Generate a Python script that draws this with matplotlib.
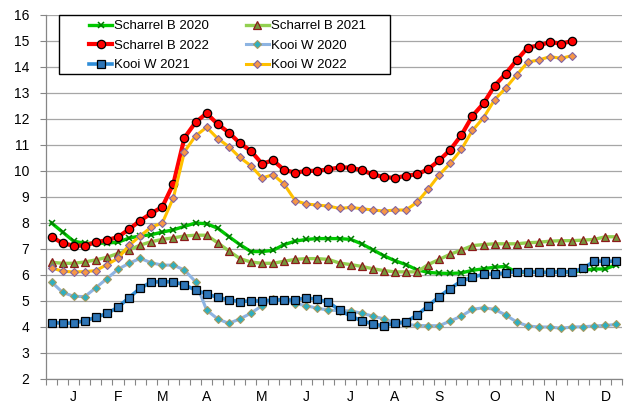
import matplotlib
matplotlib.use("Agg")
import matplotlib.pyplot as plt
import numpy as np

plt.rcParams["font.family"] = ["Liberation Sans", "DejaVu Sans"]

# weekly values, one list per series
scharrel_2020 = [8.0, 7.65, 7.3, 7.22, 7.22, 7.23, 7.26, 7.42, 7.5, 7.55, 7.65, 7.74, 7.87,
                 8.0, 7.97, 7.8, 7.48, 7.17, 6.9, 6.9, 6.95, 7.17, 7.3, 7.37, 7.4, 7.4,
                 7.4, 7.37, 7.2, 6.97, 6.74, 6.55, 6.4, 6.2, 6.1, 6.07, 6.06, 6.08, 6.18,
                 6.24, 6.3, 6.33, 6.1, 6.12, 6.1, 6.1, 6.12, 6.12, 6.18, 6.23, 6.23, 6.4]
scharrel_2021 = [6.49, 6.45, 6.45, 6.5, 6.58, 6.68, 6.83, 6.96, 7.15, 7.28, 7.37, 7.43, 7.5,
                 7.53, 7.53, 7.24, 6.93, 6.63, 6.5, 6.45, 6.45, 6.53, 6.6, 6.63, 6.63, 6.6,
                 6.46, 6.4, 6.33, 6.24, 6.17, 6.12, 6.12, 6.12, 6.4, 6.6, 6.8, 6.96, 7.13,
                 7.17, 7.2, 7.2, 7.2, 7.24, 7.26, 7.3, 7.32, 7.32, 7.34, 7.37, 7.47, 7.47]
scharrel_2022 = [7.47, 7.22, 7.13, 7.13, 7.26, 7.34, 7.46, 7.76, 8.09, 8.37, 8.62, 9.51, 11.28,
                 11.87, 12.22, 11.8, 11.48, 11.07, 10.77, 10.28, 10.41, 10.04, 9.94, 10.0,
                 10.01, 10.06, 10.14, 10.13, 10.03, 9.87, 9.77, 9.73, 9.82, 9.87, 10.07,
                 10.41, 10.82, 11.38, 12.12, 12.6, 13.28, 13.74, 14.27, 14.75, 14.83, 14.96,
                 14.9, 15.0]
kooi_2020 = [5.73, 5.33, 5.18, 5.17, 5.51, 5.86, 6.22, 6.45, 6.64, 6.47, 6.38, 6.38, 6.19,
             5.74, 4.65, 4.31, 4.14, 4.31, 4.53, 4.82, 5.08, 5.04, 4.9, 4.82, 4.72, 4.65,
             4.63, 4.62, 4.53, 4.42, 4.31, 4.17, 4.1, 4.06, 4.05, 4.05, 4.23, 4.42, 4.68,
             4.74, 4.68, 4.46, 4.19, 4.04, 4.0, 4.0, 3.95, 4.0, 4.01, 4.04, 4.06, 4.1]
kooi_2021 = [4.17, 4.15, 4.15, 4.24, 4.37, 4.52, 4.76, 5.13, 5.49, 5.73, 5.74, 5.74, 5.62,
             5.42, 5.27, 5.14, 5.04, 4.98, 5.0, 5.0, 5.04, 5.04, 5.04, 5.12, 5.06, 4.95,
             4.65, 4.42, 4.24, 4.12, 4.04, 4.15, 4.2, 4.46, 4.81, 5.17, 5.48, 5.77, 5.91,
             6.03, 6.04, 6.08, 6.13, 6.12, 6.1, 6.1, 6.12, 6.12, 6.26, 6.53, 6.53, 6.53]
kooi_2022 = [6.28, 6.14, 6.12, 6.13, 6.17, 6.4, 6.64, 7.14, 7.5, 7.84, 8.0, 8.97, 10.74,
             11.35, 11.68, 11.25, 10.94, 10.52, 10.2, 9.73, 9.86, 9.49, 8.86, 8.73, 8.69,
             8.65, 8.56, 8.6, 8.55, 8.5, 8.46, 8.5, 8.5, 8.8, 9.3, 9.85, 10.3, 10.83,
             11.56, 12.05, 12.74, 13.19, 13.7, 14.19, 14.27, 14.4, 14.33, 14.44]

month_labels = ["J", "F", "M", "A", "M", "J", "J", "A", "S", "O", "N", "D"]
month_weeks = [2, 6, 10, 14, 19, 23, 27, 31, 35, 40, 45, 50]
n_weeks = 52

fig = plt.figure(figsize=(6.28, 4.07), dpi=100)
ax = fig.add_axes([46 / 628, 1 - 379 / 407, 576 / 628, 364 / 407])

series = [
    ("Scharrel B 2020", scharrel_2020, dict(color="#00C800", lw=2.4, marker="x", ms=4.5,
                                            mec="#007A00", mew=1.1)),
    ("Scharrel B 2021", scharrel_2021, dict(color="#92D050", lw=2.4, marker="^", ms=6,
                                            mfc="#77933C", mec="#8B1A1A", mew=0.9)),
    ("Scharrel B 2022", scharrel_2022, dict(color="#FF0000", lw=3.0, marker="o", ms=6,
                                            mfc="#FF0000", mec="black", mew=0.9)),
    ("Kooi W 2020", kooi_2020, dict(color="#8DB4E2", lw=2.2, marker="D", ms=4.4,
                                    mfc="#2DAFC0", mec="#A89A60", mew=0.8)),
    ("Kooi W 2021", kooi_2021, dict(color="#2F8DD8", lw=2.6, marker="s", ms=5.4,
                                    mfc="#2E75B6", mec="black", mew=0.9)),
    ("Kooi W 2022", kooi_2022, dict(color="#FFC000", lw=2.2, marker="D", ms=4.4,
                                    mfc="#F79646", mec="#8064A2", mew=0.8)),
]

handles = {}
for name, vals, style in series:
    (h,) = ax.plot(np.arange(len(vals)), vals, label=name, **style)
    handles[name] = h

ax.set_xlim(-0.5, n_weeks - 0.5)
ax.set_ylim(2, 16)
ax.set_yticks(range(2, 17))
ax.yaxis.grid(True, color="#A6A6A6", lw=0.9)
ax.set_axisbelow(True)

ax.set_xticks(month_weeks)
ax.set_xticklabels(month_labels)
ax.set_xticks(np.arange(-0.5, n_weeks), minor=True)
ax.tick_params(axis="x", which="major", length=0, pad=8, labelsize=10)
ax.tick_params(axis="x", which="minor", length=4, color="#868686", width=0.8)
ax.tick_params(axis="y", length=4, color="#868686", width=0.8, pad=8, labelsize=10)

for s in ["top", "right"]:
    ax.spines[s].set_visible(False)
for s in ["left", "bottom"]:
    ax.spines[s].set_color("#868686")
    ax.spines[s].set_linewidth(0.9)

# legend box
box = plt.Rectangle((59 / 628, 1 - 74 / 407), 331 / 628, 59 / 407, transform=fig.transFigure,
                    fc="white", ec="black", lw=1.0, zorder=4)
fig.add_artist(box)
order = ["Scharrel B 2020", "Scharrel B 2022", "Kooi W 2021",
         "Scharrel B 2021", "Kooi W 2020", "Kooi W 2022"]
fig.legend([handles[k] for k in order], order, ncol=2, loc="upper left",
           bbox_to_anchor=(89 / 628, 1 - 20 / 407), frameon=False, borderpad=0,
           borderaxespad=0, fontsize=9.5, handlelength=1.75, handletextpad=0.15,
           columnspacing=2.8, labelspacing=0.55).set_zorder(5)

fig.savefig("out.png", dpi=100)
